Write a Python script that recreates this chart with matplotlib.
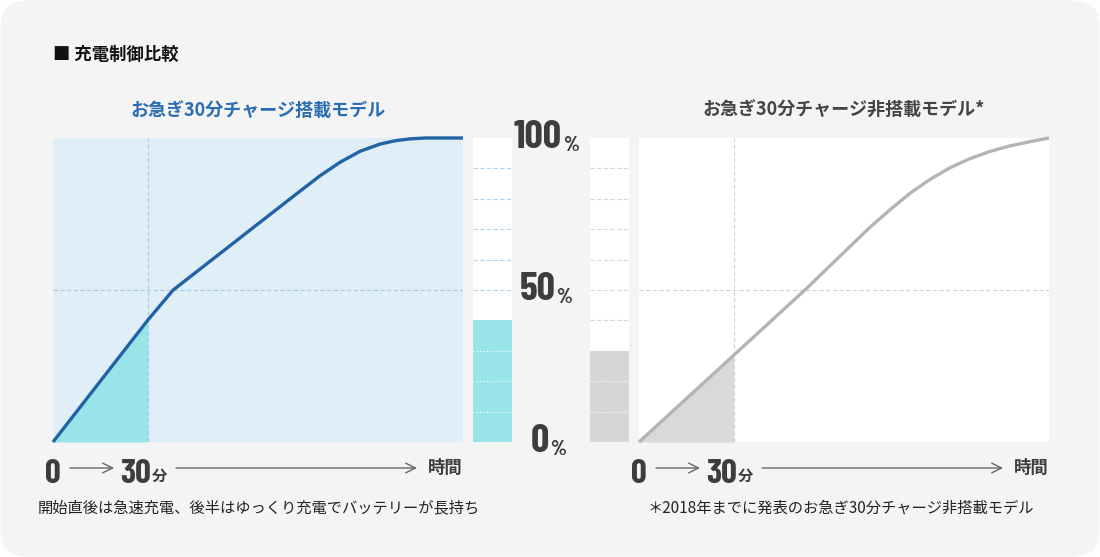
import numpy as np
import matplotlib
matplotlib.use("Agg")
import matplotlib.pyplot as plt
import matplotlib.transforms as mtransforms
from matplotlib.patches import FancyBboxPatch

# ── Data ─────────────────────────────────────────────────────────
quick_min = 30          # 30-minute quick charge mark
time_max = 130          # right end of the time axis (minutes)

# with quick charge: fast rise, then slow tail
fast_t = [0, 30, 38.1, 78.3, 84.7, 91.0, 97.3, 103.7, 108.5, 113.0, 118.0, 130]
fast_soc = [0, 40, 50, 82.5, 87.6, 92.0, 95.6, 98.0, 99.1, 99.7, 100, 100]

# without quick charge
slow_t = [0, 30, 52.6, 73.2, 79.6, 85.9, 92.3, 98.6, 104.9, 111.3,
          117.6, 124.0, 130]
slow_soc = [0, 28.5, 50, 70.6, 76.4, 81.8, 86.4, 90.2, 93.2, 95.6,
            97.4, 98.8, 100]

fast_bar = 40           # level reached after 30 min
slow_bar = 30
grid_levels = [10, 20, 30, 40, 50, 60, 70, 80, 90]
pct_labels = [100, 50, 0]

header = "■ 充電制御比較"
title_fast = "お急ぎ30分チャージ搭載モデル"
title_slow = "お急ぎ30分チャージ非搭載モデル*"
caption_fast = "開始直後は急速充電、後半はゆっくり充電でバッテリーが長持ち"
caption_slow = "＊2018年までに発表のお急ぎ30分チャージ非搭載モデル"
time_label = "時間"
min_label = "分"

# ── Fonts / colours ──────────────────────────────────────────────
JP = ["Noto Sans CJK JP", "DejaVu Sans"]
NUM = ["Barlow Condensed", "Oswald", "Roboto Condensed",
       "IBM Plex Sans Condensed", "DejaVu Sans"]
plt.rcParams["font.family"] = JP

BLUE = "#2263a5"
CYAN = "#98e4e8"
TEXT = "#3d3d3d"

W, H = 1100, 557
fig = plt.figure(figsize=(W / 100, H / 100), dpi=100)
fig.patch.set_facecolor("white")

# canvas in pixel units for background and text
bg = fig.add_axes([0, 0, 1, 1])
bg.set_xlim(0, W)
bg.set_ylim(H, 0)
bg.axis("off")
bg.add_patch(FancyBboxPatch((0.5, 0.5), W - 1, H - 1,
                            boxstyle="round,pad=0,rounding_size=26",
                            fc="#f4f4f4", ec="none"))


def px_axes(x0, y0, x1, y1):
    ax = fig.add_axes([x0 / W, 1 - y1 / H, (x1 - x0) / W, (y1 - y0) / H])
    ax.set_xticks([])
    ax.set_yticks([])
    for s in ax.spines.values():
        s.set_visible(False)
    return ax


def draw_panel(x0, t, soc, line_c, fill_c, face, grid_c):
    ax = px_axes(x0, 138, x0 + 410, 442)
    ax.set_facecolor(face)
    ax.set_xlim(0, time_max)
    ax.set_ylim(0, 100)
    ax.axvline(quick_min, color=grid_c, lw=0.8, ls=(0, (4, 2)))
    ax.axhline(50, color=grid_c, lw=0.8, ls=(0, (4, 2)))
    t = np.array(t)
    soc = np.array(soc)
    m = t <= quick_min
    ax.fill_between(t[m], soc[m], color=fill_c, lw=0)
    ax.plot(t, soc, color=line_c, lw=2.4, clip_on=False,
            solid_joinstyle="round", solid_capstyle="butt")
    return ax


def draw_bar(x0, level, fill_c, grid_c):
    ax = px_axes(x0, 138, x0 + 39, 442)
    ax.set_facecolor("white")
    ax.set_xlim(0, 1)
    ax.set_ylim(0, 100)
    ax.bar(0.5, level, width=1, color=fill_c, lw=0)
    for g in grid_levels:
        if g > level:
            ax.axhline(g, color=grid_c, lw=0.8, ls=(0, (4, 2)))
        elif g < level:
            ax.axhline(g, color="white", lw=0.8, ls=(0, (1, 2)))
    return ax


def draw_time_axis(x0):
    y = 468
    kw = dict(fontfamily=NUM, fontweight="bold", color=TEXT, va="baseline")
    bg.text(x0, 483, "0", ha="center", fontsize=25, **kw)
    bg.text(x0 + 98, 483, "30", ha="right", fontsize=25, **kw)
    bg.text(x0 + 99, 481, min_label, ha="left", va="baseline",
            fontsize=11, fontweight="bold", color=TEXT)
    arrow = dict(arrowstyle="->,head_length=0.7,head_width=0.35",
                 color="#666666", lw=1, shrinkA=0, shrinkB=0)
    bg.annotate("", xy=(x0 + 61, y), xytext=(x0 + 17, y), arrowprops=arrow)
    bg.annotate("", xy=(x0 + 364, y), xytext=(x0 + 123, y), arrowprops=arrow)
    bg.text(x0 + 392, y, time_label, ha="center", va="center",
            fontsize=12.5, fontweight="bold", color=TEXT)


# ── Left: with quick charge ──────────────────────────────────────
draw_panel(53, fast_t, fast_soc, BLUE, CYAN, "#dfeef7", "#a9cbe4")
bar_l = draw_bar(473, fast_bar, CYAN, "#b3d4ec")

# ── Right: without quick charge ──────────────────────────────────
draw_panel(639, slow_t, slow_soc, "#b4b4b4", "#d9d9d9", "white", "#d2d2d2")
draw_bar(590, slow_bar, "#d6d6d6", "#d9d9d9")

# percentage scale between the two charts
trans = mtransforms.blended_transform_factory(bg.transData, bar_l.transData)
for lv in pct_labels:
    s = str(lv)
    jx = 550 + (len(s) * 13 - 15) / 2
    bg.text(jx, lv, s, transform=trans, ha="right", va="center",
            fontsize=29, fontfamily=NUM, fontweight="bold", color=TEXT)
    bg.text(jx + 1, lv - 2.5, "%", transform=trans, ha="left", va="center",
            fontsize=15, fontfamily=NUM, fontweight="bold", color=TEXT)

draw_time_axis(53)
draw_time_axis(639)

# ── Titles and captions ──────────────────────────────────────────
bg.text(53, 55, header, ha="left", va="center", fontsize=12.5,
        fontweight="bold", color="#111111")
bg.text(258, 110, title_fast, ha="center", va="center", fontsize=13,
        fontweight="bold", color="#2a6db0")
bg.text(844, 110, title_slow, ha="center", va="center", fontsize=13,
        fontweight="bold", color="#444444")
bg.text(259, 508, caption_fast, ha="center", va="center", fontsize=11,
        color="#222222")
bg.text(841, 508, caption_slow, ha="center", va="center", fontsize=11,
        color="#222222")

fig.savefig("out.png", dpi=100, facecolor="white")
